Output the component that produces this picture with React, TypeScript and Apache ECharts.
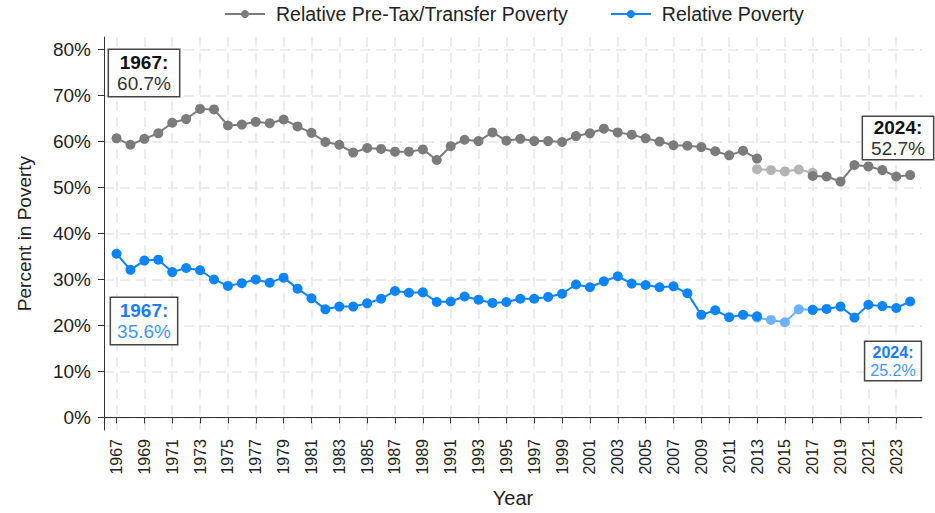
import React, { useEffect, useRef } from "react";
import * as echarts from "echarts";

const years = [
  1967, 1968, 1969, 1970, 1971, 1972, 1973, 1974, 1975, 1976, 1977, 1978, 1979, 1980,
  1981, 1982, 1983, 1984, 1985, 1986, 1987, 1988, 1989, 1990, 1991, 1992, 1993, 1994,
  1995, 1996, 1997, 1998, 1999, 2000, 2001, 2002, 2003, 2004, 2005, 2006, 2007, 2008,
  2009, 2010, 2011, 2012, 2013, 2014, 2015, 2016, 2017, 2018, 2019, 2020, 2021, 2022,
  2023, 2024,
];

const preTaxPoverty = [
  60.7, 59.3, 60.6, 61.8, 64.1, 64.9, 67.1, 67.0, 63.5, 63.7, 64.3, 64.0, 64.8, 63.3,
  61.9, 59.9, 59.3, 57.6, 58.6, 58.4, 57.8, 57.8, 58.3, 56.0, 59.0, 60.4, 60.1, 62.0,
  60.2, 60.6, 60.1, 60.1, 59.9, 61.2, 61.8, 62.8, 62.0, 61.5, 60.7, 60.0, 59.2, 59.1,
  58.8, 57.9, 57.0, 58.0, 56.3, null, null, null, 52.5, 52.4, 51.3, 54.9, 54.6, 53.8,
  52.4, 52.7,
];

const altYears = [2013, 2014, 2015, 2016, 2017];
const preTaxPovertyAlt = [54.0, 53.8, 53.5, 53.9, 53.2];

const relativePoverty = [
  35.6, 32.1, 34.1, 34.3, 31.6, 32.5, 32.0, 30.0, 28.6, 29.2, 30.0, 29.3, 30.4, 28.0,
  25.9, 23.5, 24.1, 24.1, 24.8, 25.8, 27.5, 27.1, 27.2, 25.1, 25.2, 26.3, 25.6, 24.9,
  25.1, 25.8, 25.8, 26.2, 26.9, 28.9, 28.3, 29.6, 30.7, 29.1, 28.8, 28.3, 28.5, 27.0,
  22.3, 23.3, 21.8, 22.3, 22.0, null, null, null, 23.4, 23.6, 24.1, 21.7, 24.5, 24.2,
  23.8, 25.2,
];
const relativePovertyAlt = [21.7, 21.2, 20.7, 23.5, 23.4];

const xTickYears = [
  1967, 1969, 1971, 1973, 1975, 1977, 1979, 1981, 1983, 1985, 1987, 1989, 1991, 1993,
  1995, 1997, 1999, 2001, 2003, 2005, 2007, 2009, 2011, 2013, 2015, 2017, 2019, 2021, 2023,
];
const yTicks = [0, 10, 20, 30, 40, 50, 60, 70, 80];

const GRAY = "#7b7b7b";
const GRAY_LIGHT = "#b4b4b4";
const BLUE = "#0b84ff";
const BLUE_LIGHT = "#6cb2ff";
const FONT = "Liberation Sans, Arial, sans-serif";

function pairs(xs: number[], vs: (number | null)[]) {
  return xs.map((x, i) => [x, vs[i]]);
}

export default function App() {
  const ref = useRef<HTMLDivElement>(null);
  useEffect(() => {
    if (!ref.current) return;
    const chart = echarts.init(ref.current, undefined, { renderer: "svg" });
    const gridLine = { show: true, lineStyle: { color: "#e6e6e6", width: 1.5, type: [10, 6] as any } };
    const annot = (
      x: number,
      y: number,
      year: string,
      val: string,
      c1: string,
      c2: string,
      fs: number,
      pad: number[]
    ) => ({
      type: "text",
      x,
      y,
      z: 100,
      style: {
        text: `{b|${year}}\n{n|${val}}`,
        align: "center",
        verticalAlign: "top",
        backgroundColor: "#fff",
        borderColor: "#444",
        borderWidth: 1.5,
        padding: pad,
        fontFamily: FONT,
        rich: {
          b: { fontWeight: "bold", fontSize: fs, fill: c1, lineHeight: fs + 2, fontFamily: FONT, align: "center" },
          n: { fontSize: fs, fill: c2, lineHeight: fs + 2, fontFamily: FONT, align: "center" },
        },
      },
    });
    chart.setOption({
      animation: false,
      textStyle: { fontFamily: FONT },
      legend: {
        left: 219,
        top: -1,
        itemWidth: 40,
        itemHeight: 10,
        itemGap: 42,
        data: ["Relative Pre-Tax/Transfer Poverty", "Relative Poverty"],
        textStyle: { fontSize: 19.5, color: "#222", fontFamily: FONT, padding: [0, 0, 0, 6] },
      },
      grid: { left: 104, top: 37, right: 13, bottom: 83, containLabel: false, outerBoundsMode: "none" },
      xAxis: {
        type: "value",
        min: 1966.1,
        max: 2024.85,
        name: "Year",
        nameLocation: "middle",
        nameGap: 58,
        nameTextStyle: { fontSize: 20, color: "#222", fontFamily: FONT },
        axisLine: { show: true, lineStyle: { color: "#333", width: 1 } },
        axisTick: { show: true, length: 6, customValues: xTickYears, lineStyle: { color: "#333" } },
        axisLabel: {
          customValues: xTickYears,
          rotate: 90,
          fontSize: 16,
          color: "#222",
          margin: 9,
          fontFamily: FONT,
          formatter: (v: number) => String(v),
        },
        splitLine: gridLine,
      },
      yAxis: {
        type: "value",
        min: -2.75,
        max: 82.75,
        name: "Percent in Poverty",
        nameLocation: "middle",
        nameGap: 70,
        nameTextStyle: { fontSize: 19, color: "#222", fontFamily: FONT },
        axisLine: { show: true, lineStyle: { color: "#333", width: 1 } },
        axisTick: { show: true, length: 6, customValues: yTicks, lineStyle: { color: "#333" } },
        axisLabel: {
          customValues: yTicks,
          formatter: "{value}%",
          fontSize: 19,
          color: "#222",
          margin: 13,
          fontFamily: FONT,
        },
        splitLine: gridLine,
      },
      series: [
        {
          name: "Relative Pre-Tax/Transfer Poverty",
          type: "line",
          data: pairs(years, preTaxPoverty),
          symbol: "circle",
          symbolSize: 10,
          connectNulls: false,
          itemStyle: { color: GRAY },
          lineStyle: { color: GRAY, width: 2 },
          z: 3,
        },
        {
          name: "Pre-Tax alt",
          type: "line",
          data: pairs(altYears, preTaxPovertyAlt),
          symbol: "circle",
          symbolSize: 10,
          itemStyle: { color: GRAY_LIGHT },
          lineStyle: { color: GRAY_LIGHT, width: 2 },
          z: 2,
        },
        {
          name: "Relative Poverty",
          type: "line",
          data: pairs(years, relativePoverty),
          symbol: "circle",
          symbolSize: 10,
          connectNulls: false,
          itemStyle: { color: BLUE },
          lineStyle: { color: BLUE, width: 2 },
          z: 3,
        },
        {
          name: "Relative alt",
          type: "line",
          data: pairs(altYears, relativePovertyAlt),
          symbol: "circle",
          symbolSize: 10,
          itemStyle: { color: BLUE_LIGHT },
          lineStyle: { color: BLUE_LIGHT, width: 2 },
          z: 2,
        },
      ],
      graphic: [
        annot(144, 50, "1967:", "60.7%", "#111", "#333", 19, [2, 8, 2, 8]),
        annot(144, 298, "1967:", "35.6%", "#1a7dff", "#3d99ff", 19, [2, 6, 2, 6]),
        annot(898, 117, "2024:", "52.7%", "#111", "#333", 19, [0, 8, 0, 8]),
        annot(893, 342, "2024:", "25.2%", "#1a7dff", "#3d99ff", 16, [1, 5, 1, 5]),
      ],
    });
    return () => chart.dispose();
  }, []);
  return (
    <div
      ref={ref}
      style={{ position: "fixed", left: 0, top: 0, width: 935, height: 513, background: "#fff" }}
    />
  );
}
